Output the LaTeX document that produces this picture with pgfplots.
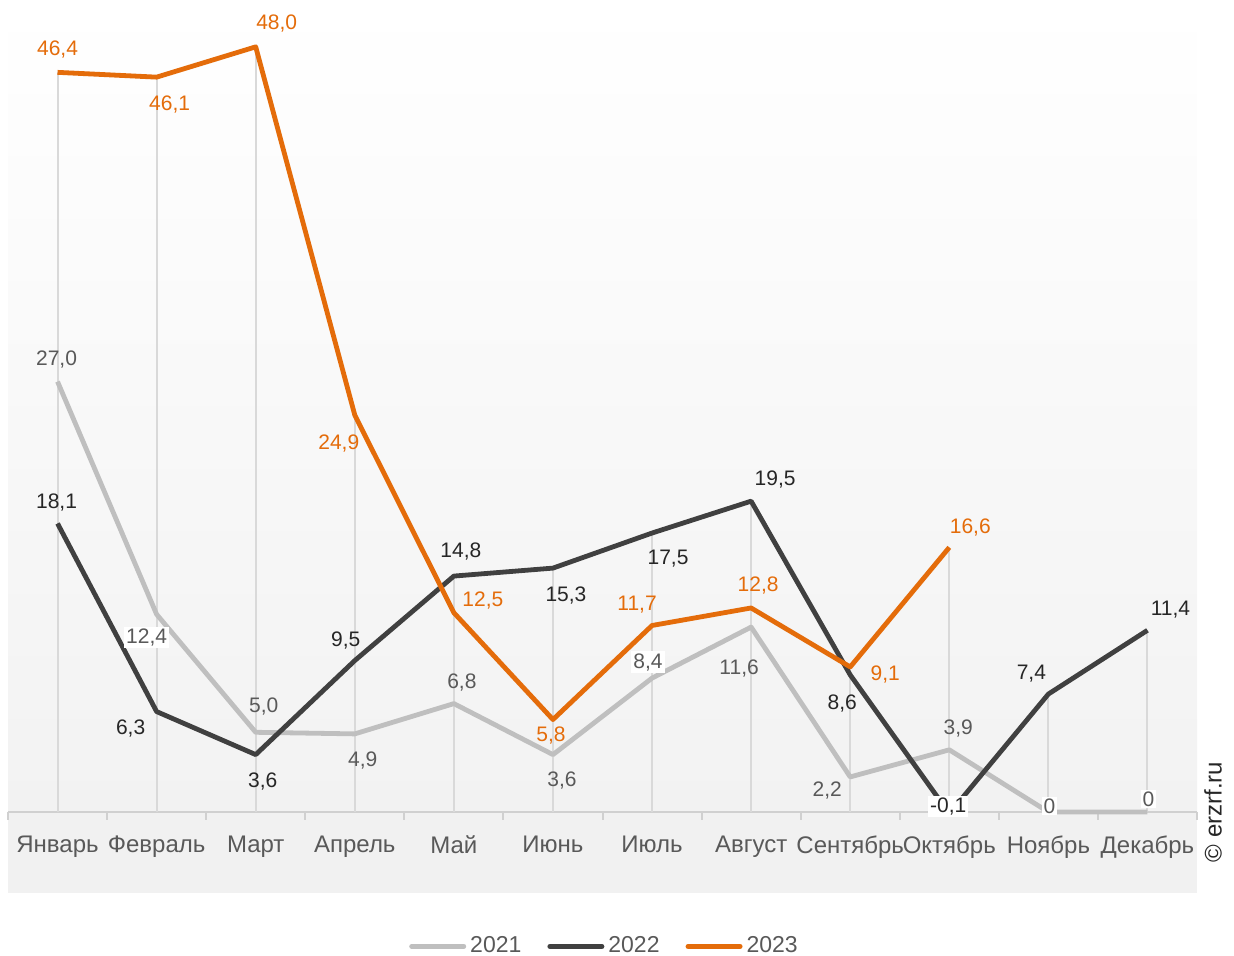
\documentclass[border=0pt]{standalone}
\usepackage{fontspec}
\setmainfont{Liberation Sans}
\usepackage{pgfplots}
\usepackage{pgfplotstable}
\pgfplotsset{compat=1.18}
\definecolor{cA}{HTML}{BFBFBF}
\definecolor{cB}{HTML}{404040}
\definecolor{cC}{HTML}{E46C0A}
\definecolor{tA}{HTML}{595959}
\definecolor{tB}{HTML}{262626}
\definecolor{drop}{HTML}{D9D9D9}
\definecolor{axl}{HTML}{D0D0D0}
\definecolor{band}{HTML}{F1F1F1}
\definecolor{bgbot}{HTML}{F2F2F2}

\pgfplotstableread{
x y lab dx dy op
0 27.0 27,0 -0.5 11 0
1 12.4 12,4 -5 -11.5 1
2 5.0 5,0 4 13 0
3 4.9 4,9 4 -13.5 0
4 6.8 6,8 4 10.5 0
5 3.6 3,6 4.5 -13 0
6 8.4 8,4 -2 8 1
7 11.6 11,6 -6 -20.5 0
8 2.2 2,2 -11.5 -7 0
9 3.9 3,9 4.5 10.5 0
10 0 0 0.5 3 1
11 0 0 0.5 6.5 1
}\dA

\pgfplotstableread{
x y lab dx dy op
0 18.1 18,1 -0.5 10.5 0
1 6.3 6,3 -13 -8.5 0
2 3.6 3,6 3.5 -13.5 0
3 9.5 9,5 -4.5 10 0
4 14.8 14,8 3.5 12.5 0
5 15.3 15,3 6.5 -13.5 0
6 17.5 17,5 8 -13 0
7 19.5 19,5 12 11 0
8 8.6 8,6 -4 -14.5 0
9 -0.1 -0,1 -0.5 3.5 1
10 7.4 7,4 -8.5 10 0
11 11.4 11,4 11.5 10.5 0
}\dB

\pgfplotstableread{
x y lab dx dy op
0 46.4 46,4 0 11.25 0
1 46.1 46,1 6.5 -13.5 0
2 48.0 48,0 10.5 11.5 0
3 24.9 24,9 -8 -14 0
4 12.5 12,5 14.5 6 0
5 5.8 5,8 -1 -8 0
6 11.7 11,7 -7.5 10.5 0
7 12.8 12,8 3.5 11 0
8 9.1 9,1 17.5 -4 0
9 16.6 16,6 10.5 10 0
}\dC

\pgfplotsset{
  lab/.style={draw=none, mark=none, forget plot, nodes near coords,
    point meta=explicit symbolic,
    visualization depends on={\thisrow{dx}\as\dx},
    visualization depends on={\thisrow{dy}\as\dy},
    visualization depends on={\thisrow{op}\as\op},
    every node near coord/.append style={anchor=center, xshift=\dx pt, yshift=\dy pt,
      text=#1, font=\fontsize{10.5}{12}\selectfont, fill=white, fill opacity=\op,
      text opacity=1, inner sep=1pt}},
}

\begin{document}
\begin{tikzpicture}
\useasboundingbox (0,0) rectangle (617pt,478pt);
\shade[top color=white, bottom color=bgbot] (4pt,72pt) rectangle (598.5pt,478pt);
\fill[band] (4pt,31.5pt) rectangle (598.5pt,72pt);
\begin{axis}[
  at={(4pt,72pt)}, anchor=south west,
  scale only axis, width=594.5pt, height=406pt,
  xmin=-0.5, xmax=11.5, ymin=0, ymax=50.94,
  clip=false,
  axis x line*=bottom, axis y line=none,
  x axis line style={draw=axl, line width=1pt, -},
  xtick={0,...,11},
  xticklabels={Январь,Февраль,Март,Апрель,Май,Июнь,Июль,Август,Сентябрь,Октябрь,Ноябрь,Декабрь},
  major tick length=0pt,
  minor xtick={-0.5,0.5,1.5,2.5,3.5,4.5,5.5,6.5,7.5,8.5,9.5,10.5,11.5},
  minor tick length=4pt,
  tick align=outside,
  xtick style={draw=axl, line width=1pt},
  xticklabel style={font=\fontsize{12}{14}\selectfont, text=tA, yshift=-8.5pt},
  legend style={at={(0.5025,-0.1655)}, anchor=center, draw=none, fill=none,
    legend columns=3, font=\fontsize{11.5}{13}\selectfont, text=tA,
    /tikz/every even column/.append style={column sep=11pt}},
  legend image code/.code={\draw[#1, line width=2.5pt, line cap=round] (0pt,0pt) -- (26pt,0pt);},
]
\addplot[ycomb, draw=drop, line width=1pt, mark=none, forget plot] table[x=x,y=y]{\dA};
\addplot[ycomb, draw=drop, line width=1pt, mark=none, forget plot] table[x=x,y=y]{\dB};
\addplot[ycomb, draw=drop, line width=1pt, mark=none, forget plot] table[x=x,y=y]{\dC};

\addplot[cA, line width=2.4pt, line join=round, mark=none, forget plot] table[x=x,y=y]{\dA};
\addplot[cB, line width=2.4pt, line join=round, mark=none, forget plot] table[x=x,y=y]{\dB};
\addplot[cC, line width=2.4pt, line join=round, mark=none, forget plot] table[x=x,y=y]{\dC};

\addplot[lab=tA] table[x=x,y=y,meta=lab]{\dA};
\addplot[lab=tB] table[x=x,y=y,meta=lab]{\dB};
\addplot[lab=cC] table[x=x,y=y,meta=lab]{\dC};

\addlegendimage{cA}\addlegendentry{2021}
\addlegendimage{cB}\addlegendentry{2022}
\addlegendimage{cC}\addlegendentry{2023}
\end{axis}
\node[rotate=90, font=\fontsize{12}{14}\selectfont, text=tB] at (606.5pt,72pt) {© erzrf.ru};
\end{tikzpicture}
\end{document}
